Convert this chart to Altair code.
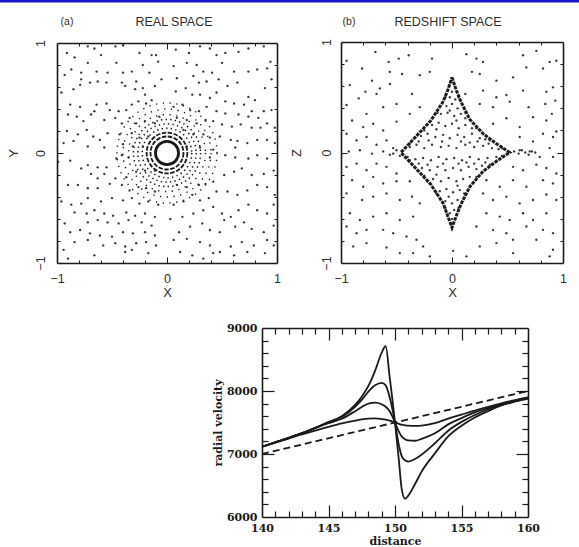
import altair as alt
import pandas as pd

# ---------------- panel (a): REAL SPACE, scattered particles (x, y) ----------------
A_UL = [(-0.91,0.91),(-0.84,0.87),(-0.72,0.82),(-0.93,0.71),(-0.78,0.73),(-0.78,0.67),(-0.64,0.74),(-0.54,0.73),
        (-0.40,0.73),(-0.46,0.82),(-0.32,0.74),(-0.22,0.80),(-0.14,0.89),(-0.10,0.89),(-0.08,0.83),(-0.16,0.73),
        (-0.96,0.55),(-0.79,0.62),(-0.70,0.64),(-0.63,0.65),(-0.55,0.64),(-0.41,0.64),(-0.38,0.61),(-0.29,0.58),
        (-0.22,0.59),(-0.20,0.53),(-0.11,0.61),(-0.05,0.67),(-0.88,0.44),(-0.79,0.42),(-0.64,0.44),(-0.66,0.38),
        (-0.55,0.45),(-0.52,0.39),(-0.44,0.38),(-0.37,0.39),(-0.32,0.44),(-0.26,0.47),(-0.19,0.45),(-0.14,0.48),
        (-0.90,0.35),(-0.82,0.33),(-0.76,0.29),(-0.69,0.35),(-0.57,0.30),(-0.47,0.32),(-0.41,0.27),(-0.34,0.32),
        (-0.28,0.27),(-0.20,0.29),(-0.11,0.27),(-0.07,0.33),(-0.91,0.20),(-0.81,0.17),(-0.73,0.21),(-0.67,0.15),
        (-0.61,0.12),(-0.54,0.18),(-0.43,0.17),(-0.32,0.18),(-0.25,0.14),(-0.17,0.15),(-0.94,0.09),(-0.85,0.11),
        (-0.72,0.06),(-0.57,0.05),(-0.40,0.08),(-0.31,0.06),(-0.22,0.06),(-0.47,0.97),(-0.40,0.98),(-0.66,0.95),
        (-0.72,0.97),(-0.60,0.89),(-0.25,0.91),(-0.87,0.76),(-0.85,0.58),(-0.28,0.65)]
A_UR = [(0.08,0.94),(0.20,0.91),(0.30,0.97),(0.39,0.95),(0.45,0.89),(0.53,0.91),(0.65,0.92),(0.74,0.95),
        (0.88,0.97),(0.06,0.79),(0.18,0.82),(0.27,0.80),(0.33,0.74),(0.41,0.73),(0.50,0.82),(0.61,0.74),
        (0.74,0.74),(0.82,0.76),(0.91,0.77),(0.94,0.83),(0.09,0.68),(0.24,0.70),(0.29,0.64),(0.36,0.65),
        (0.47,0.67),(0.55,0.61),(0.64,0.64),(0.74,0.51),(0.80,0.48),(0.89,0.59),(0.95,0.67),(0.08,0.56),
        (0.17,0.59),(0.23,0.53),(0.30,0.53),(0.39,0.50),(0.45,0.55),(0.53,0.47),(0.61,0.45),(0.70,0.44),
        (0.77,0.38),(0.88,0.38),(0.95,0.39),(0.06,0.42),(0.14,0.44),(0.21,0.39),(0.29,0.38),(0.36,0.42),
        (0.45,0.38),(0.53,0.36),(0.65,0.35),(0.74,0.33),(0.83,0.32),(0.91,0.27),(0.98,0.23),(0.09,0.32),
        (0.18,0.30),(0.27,0.27),(0.35,0.30),(0.42,0.29),(0.50,0.26),(0.59,0.24),(0.67,0.26),(0.77,0.23),
        (0.85,0.23),(0.15,0.21),(0.24,0.17),(0.33,0.17),(0.39,0.14),(0.48,0.15),(0.58,0.12),(0.64,0.11),
        (0.73,0.09),(0.82,0.12),(0.91,0.12),(0.98,0.09),(0.18,0.06),(0.30,0.05),(0.42,0.03),(0.62,0.05)]
A_LL = [(-0.99,-0.08),(-0.88,-0.07),(-0.78,-0.14),(-0.72,-0.11),(-0.63,-0.13),(-0.55,-0.13),(-0.46,-0.05),
        (-0.41,-0.02),(-0.35,-0.04),(-0.69,-0.19),(-0.63,-0.23),(-0.57,-0.19),(-0.47,-0.23),(-0.37,-0.22),
        (-0.28,-0.17),(-0.20,-0.16),(-0.11,-0.16),(-0.90,-0.29),(-0.81,-0.29),(-0.72,-0.32),(-0.63,-0.32),
        (-0.52,-0.28),(-0.41,-0.29),(-0.34,-0.34),(-0.26,-0.31),(-0.19,-0.32),(-0.11,-0.35),(-0.96,-0.44),
        (-0.87,-0.47),(-0.78,-0.46),(-0.72,-0.41),(-0.60,-0.44),(-0.50,-0.41),(-0.40,-0.43),(-0.32,-0.41),
        (-0.25,-0.46),(-0.17,-0.44),(-0.08,-0.47),(-0.84,-0.54),(-0.73,-0.55),(-0.66,-0.52),(-0.57,-0.55),
        (-0.49,-0.57),(-0.37,-0.54),(-0.29,-0.57),(-0.20,-0.55),(-0.11,-0.58),(-0.93,-0.64),(-0.72,-0.63),
        (-0.63,-0.61),(-0.54,-0.63),(-0.44,-0.64),(-0.35,-0.61),(-0.23,-0.63),(-0.14,-0.66),(-0.88,-0.72),
        (-0.79,-0.70),(-0.70,-0.73),(-0.61,-0.75),(-0.50,-0.76),(-0.40,-0.72),(-0.31,-0.73),(-0.20,-0.72),
        (-0.11,-0.75),(-0.84,-0.81),(-0.72,-0.79),(-0.58,-0.84),(-0.47,-0.82),(-0.38,-0.85),(-0.28,-0.82),
        (-0.19,-0.81),(-0.10,-0.84),(-0.94,-0.88),(-0.90,-0.96),(-0.66,-0.93),(-0.38,-0.90),(-0.32,-0.88),
        (-0.17,-0.91)]
A_LR = [(0.39,-0.04),(0.53,-0.02),(0.62,-0.04),(0.74,-0.05),(0.82,-0.02),(0.91,-0.05),(0.97,-0.16),
        (0.88,-0.19),(0.77,-0.20),(0.68,-0.14),(0.61,-0.17),(0.52,-0.20),(0.42,-0.26),(0.35,-0.28),
        (0.29,-0.29),(0.18,-0.31),(0.09,-0.29),(0.06,-0.47),(0.15,-0.44),(0.23,-0.38),(0.30,-0.43),
        (0.38,-0.41),(0.45,-0.35),(0.55,-0.35),(0.64,-0.38),(0.73,-0.34),(0.82,-0.29),(0.91,-0.31),
        (0.98,-0.38),(0.03,-0.60),(0.14,-0.58),(0.24,-0.55),(0.33,-0.52),(0.42,-0.49),(0.50,-0.55),
        (0.58,-0.58),(0.65,-0.52),(0.74,-0.47),(0.82,-0.52),(0.91,-0.55),(0.97,-0.47),(0.11,-0.72),
        (0.21,-0.67),(0.32,-0.64),(0.39,-0.70),(0.48,-0.72),(0.52,-0.61),(0.62,-0.67),(0.70,-0.63),
        (0.77,-0.69),(0.88,-0.72),(0.97,-0.66),(0.06,-0.79),(0.18,-0.78),(0.30,-0.81),(0.39,-0.84),
        (0.48,-0.90),(0.58,-0.85),(0.68,-0.81),(0.79,-0.84),(0.91,-0.79),(0.12,-0.90),(0.23,-0.93),
        (0.33,-0.96),(0.42,-0.91),(0.61,-0.93),(0.73,-0.90),(0.89,-0.91),(0.97,-0.84)]

# concentric shells around the cluster centre (radius, in units of the box)
RING_SOLID = [0.105]
RING_DASHED = [0.15, 0.185]
RING_DOTTED_IN = [0.225, 0.265, 0.305]
RING_DOTTED_OUT = [0.35, 0.40, 0.455]

# ---------------- panel (b): REDSHIFT SPACE ----------------
B_OUT = [(-0.69,0.91),(-0.57,0.82),(-0.48,0.85),(-0.39,0.88),(-0.18,0.85),(0.13,0.89),(0.22,0.85),(0.28,0.82),
         (0.64,0.88),(0.76,0.92),(0.88,0.82),(0.94,0.83),(-0.95,0.83),(-0.81,0.76),(-0.72,0.65),(-0.65,0.58),
         (-0.56,0.73),(-0.45,0.71),(-0.29,0.70),(-0.20,0.73),(0.18,0.73),(0.25,0.71),(0.40,0.65),(0.55,0.68),
         (0.67,0.77),(0.82,0.76),(-0.92,0.61),(-0.78,0.55),(-0.68,0.53),(-0.56,0.62),(-0.36,0.53),(0.12,0.53),
         (0.28,0.56),(0.40,0.50),(0.49,0.52),(0.64,0.56),(0.85,0.55),(0.91,0.59),(-0.95,0.43),(-0.84,0.49),
         (-0.77,0.35),(-0.62,0.41),(-0.50,0.44),(-0.38,0.35),(-0.29,0.41),(0.25,0.44),(0.37,0.41),(0.52,0.46),
         (0.69,0.41),(0.84,0.44),(0.93,0.47),(0.90,0.35),(-0.90,0.29),(-0.80,0.23),(-0.71,0.26),(-0.62,0.20),
         (-0.50,0.28),(0.37,0.26),(0.49,0.31),(0.61,0.23),(0.73,0.32),(0.85,0.29),(0.94,0.19),(-0.95,0.17),
         (-0.86,0.11),(-0.77,0.14),(-0.68,0.07),(-0.59,0.11),(-0.53,0.04),(0.61,0.14),(0.73,0.10),(0.82,0.17),
         (0.91,0.14),(0.88,0.04),(-0.93,0.01),(-0.83,0.02),(-0.72,-0.01),(-0.62,0.01),(-0.56,-0.02),(0.61,0.02),
         (0.70,0.01),(0.79,-0.04),(0.91,-0.04),(-0.95,-0.13),(-0.86,-0.10),(-0.77,-0.16),(-0.68,-0.10),
         (-0.59,-0.13),(-0.50,-0.19),(0.55,-0.13),(0.64,-0.16),(0.76,-0.11),(0.85,-0.14),(0.94,-0.19),
         (-0.90,-0.25),(-0.80,-0.31),(-0.71,-0.22),(-0.62,-0.28),(-0.50,-0.26),(-0.38,-0.26),(0.31,-0.25),
         (0.43,-0.31),(0.55,-0.25),(0.67,-0.31),(0.82,-0.25),(0.91,-0.28),(-0.95,-0.37),(-0.81,-0.43),
         (-0.71,-0.40),(-0.59,-0.37),(-0.47,-0.43),(-0.36,-0.40),(-0.29,-0.46),(0.28,-0.37),(0.37,-0.43),
         (0.49,-0.40),(0.61,-0.46),(0.73,-0.43),(0.85,-0.38),(0.94,-0.43),(-0.92,-0.55),(-0.83,-0.61),
         (-0.71,-0.58),(-0.59,-0.55),(-0.47,-0.61),(-0.35,-0.58),(0.31,-0.55),(0.43,-0.58),(0.52,-0.61),
         (0.64,-0.55),(0.73,-0.61),(0.85,-0.55),(-0.95,-0.67),(-0.86,-0.73),(-0.77,-0.70),(-0.62,-0.70),
         (-0.53,-0.73),(-0.41,-0.76),(-0.32,-0.79),(-0.26,-0.85),(0.22,-0.67),(0.37,-0.70),(0.49,-0.73),
         (0.55,-0.79),(0.67,-0.67),(0.82,-0.70),(0.91,-0.73),(-0.89,-0.85),(-0.77,-0.82),(-0.59,-0.86),
         (-0.47,-0.91),(-0.35,-0.91),(-0.20,-0.94),(0.01,-0.89),(0.13,-0.94),(0.25,-0.85),(0.40,-0.82),
         (0.55,-0.91),(0.76,-0.79),(0.91,-0.88),(0.88,-0.94),(0.56,0.01),(0.60,-0.01),(0.63,0.02),
         (0.66,0.00),(0.69,-0.02),(0.72,0.01),(0.75,0.00),(-0.50,0.02),(-0.47,-0.03),(-0.53,-0.01)]
B_IN = [(0.00,0.55),(-0.02,0.50),(0.03,0.48),(-0.05,0.42),(0.00,0.44),(0.05,0.40),(-0.10,0.35),(-0.04,0.36),
        (0.02,0.33),(0.08,0.35),(0.12,0.31),(-0.18,0.25),(-0.12,0.27),(-0.06,0.24),(0.00,0.26),(0.06,0.22),
        (0.12,0.25),(0.18,0.22),(-0.28,0.15),(-0.22,0.17),(-0.15,0.14),(-0.08,0.16),(-0.02,0.13),(0.05,0.16),
        (0.11,0.14),(0.18,0.17),(0.25,0.13),(0.30,0.12),(-0.38,0.05),(-0.32,0.07),(-0.25,0.04),(-0.18,0.07),
        (-0.10,0.05),(-0.03,0.06),(0.04,0.04),(0.12,0.07),(0.20,0.05),(0.28,0.06),(0.36,0.04),(0.42,0.03),
        (-0.40,-0.04),(-0.33,-0.06),(-0.26,-0.05),(-0.19,-0.07),(-0.12,-0.04),(-0.05,-0.06),(0.02,-0.05),
        (0.09,-0.07),(0.16,-0.04),(0.24,-0.06),(0.32,-0.05),(0.40,-0.04),(-0.27,-0.14),(-0.20,-0.16),
        (-0.13,-0.13),(-0.06,-0.16),(0.01,-0.14),(0.08,-0.16),(0.15,-0.13),(0.22,-0.15),(0.27,-0.12),
        (-0.17,-0.24),(-0.10,-0.26),(-0.03,-0.23),(0.04,-0.26),(0.10,-0.24),(0.16,-0.22),(-0.11,-0.35),
        (-0.05,-0.33),(0.01,-0.36),(0.07,-0.34),(0.11,-0.37),(-0.06,-0.44),(0.00,-0.46),(0.05,-0.43),
        (-0.02,-0.55),(0.02,-0.52),(0.00,-0.60),(0.06,0.50),(0.12,0.36),(0.22,0.22),(0.34,0.11),(0.45,0.04),
        (-0.06,0.50),(-0.13,0.36),(-0.25,0.20),(-0.38,0.08),(0.06,-0.50),(0.12,-0.38),(0.22,-0.22),
        (0.34,-0.11),(0.45,-0.03),(-0.06,-0.50),(-0.14,-0.37),(-0.25,-0.21),(-0.38,-0.07),
        (-0.30,0.10),(-0.21,0.11),(-0.14,0.21),(-0.09,0.10),(0.08,0.10),(0.16,0.09),(0.23,0.10),(0.33,0.08),
        (-0.30,-0.10),(-0.22,-0.11),(-0.14,-0.20),(-0.08,-0.10),(0.06,-0.10),(0.13,-0.09),(0.20,-0.10),
        (0.30,-0.09),(-0.02,0.38),(0.04,0.29),(-0.03,-0.40),(0.05,-0.30),(0.02,0.62),(-0.01,-0.64)]
# caustic outline of the collapsing shell in redshift space
CAUSTIC = [(0.00,0.68),(0.04,0.56),(0.08,0.46),(0.16,0.30),(0.28,0.17),(0.40,0.08),(0.52,0.00),
           (0.40,-0.08),(0.28,-0.17),(0.16,-0.31),(0.08,-0.47),(0.04,-0.57),(0.00,-0.68),(-0.04,-0.57),
           (-0.08,-0.46),(-0.19,-0.29),(-0.32,-0.15),(-0.46,0.00),(-0.32,0.15),(-0.19,0.29),(-0.08,0.46),
           (-0.04,0.56),(0.00,0.68)]

BOX_DOMAIN = [-1.0, 1.0]
BOX_LABELS = [-1.0, 0.0, 1.0]
BOX_TICKS_MINOR = [-0.8, -0.6, -0.4, -0.2, 0.2, 0.4, 0.6, 0.8]
BOX_TICKS_MAJOR = [0.0]

# ---------------- panel (c): radial velocity vs distance ----------------
DIST = [140, 141, 142, 143, 144, 145, 146, 147, 147.5, 148, 148.5, 149, 149.3, 149.6, 150, 150.3, 150.5,
        150.75, 151, 151.5, 152, 153, 154, 155, 156, 157, 158, 159, 160]
VEL_1 = [7115, 7185, 7255, 7330, 7415, 7505, 7600, 7780, 7910, 8080, 8320, 8610, 8710, 8220, 7500, 6880, 6450,
         6290, 6340, 6520, 6720, 7010, 7280, 7450, 7580, 7680, 7770, 7830, 7880]
VEL_2 = [7115, 7185, 7255, 7330, 7415, 7505, 7590, 7750, 7860, 7990, 8090, 8130, 8090, 7900, 7500, 7130, 6970,
         6900, 6880, 6920, 6990, 7170, 7370, 7510, 7620, 7710, 7780, 7840, 7885]
VEL_3 = [7115, 7185, 7255, 7330, 7410, 7490, 7560, 7680, 7745, 7800, 7815, 7790, 7750, 7680, 7500, 7350, 7280,
         7235, 7215, 7210, 7240, 7330, 7470, 7570, 7660, 7730, 7790, 7845, 7895]
VEL_4 = [7115, 7180, 7245, 7310, 7370, 7430, 7485, 7530, 7550, 7562, 7565, 7555, 7545, 7530, 7500, 7478, 7465,
         7455, 7450, 7447, 7452, 7490, 7560, 7625, 7690, 7750, 7805, 7855, 7900]
HUBBLE_D = [140, 160]
HUBBLE_V = [7000, 8000]
D_DOMAIN = [140, 160]
V_DOMAIN = [6000, 9000]
D_LABELS = [140, 145, 150, 155, 160]
V_LABELS = [6000, 7000, 8000, 9000]
D_TICKS_MAJOR = [145, 150, 155]
D_TICKS_MINOR = [141, 142, 143, 144, 146, 147, 148, 149, 151, 152, 153, 154, 156, 157, 158, 159]
V_TICKS_MAJOR = [7000, 8000]
V_TICKS_MINOR = [6200, 6400, 6600, 6800, 7200, 7400, 7600, 7800, 8200, 8400, 8600, 8800]

# ---------------- page layout (pixels) ----------------
CW, CH = 579, 547
A_BOX = (57, 277, 263, 43)     # left, right, bottom, top of the plot frame
B_BOX = (341, 563, 263, 42)
C_BOX = (262, 528, 517, 328)

INK = "#1a1a1a"
TXT = "#2e2e2e"
SANS = "Liberation Sans"
SERIF = "DejaVu Serif"


def lin(domain, rng):
    return alt.Scale(domain=domain, range=rng, nice=False, zero=False)


def frame_layers(box, xdom, ydom, xminor, xmajor, yminor, ymajor, lmin, lmaj, tw):
    """Frame (axis domain lines) and inward ticks on all four sides, drawn with axes."""
    x0, x1, yb, yt = box
    sx, sy = lin(xdom, [x0, x1]), lin(ydom, [yb, yt])
    dummy = pd.DataFrame({"x": xdom, "y": ydom})
    out = []
    for xv, yv, ln, dom in ((xminor, yminor, lmin, True), (xmajor, ymajor, lmaj, False)):
        common = dict(labels=False, title="", grid=False, tickSize=ln, tickColor=INK, tickWidth=tw,
                      domain=dom, domainColor=INK, domainWidth=1.6)
        out.append(alt.Chart(dummy).mark_point(opacity=0).encode(
            x=alt.X("x:Q", scale=sx, axis=alt.Axis(orient="top", offset=-yb, values=xv, **common)),
            y=alt.Y("y:Q", scale=sy, axis=alt.Axis(orient="right", offset=x0 - CW, values=yv, **common))))
        out.append(alt.Chart(dummy).mark_point(opacity=0).encode(
            x=alt.X("x:Q", scale=sx, axis=alt.Axis(orient="bottom", offset=yt - CH, values=xv, **common)),
            y=alt.Y("y:Q", scale=sy, axis=alt.Axis(orient="left", offset=-x1, values=yv, **common))))
    return out


def box_layers(points, box, xtitle, ytitle, ylab_pad, ytitle_pad):
    x0, x1, yb, yt = box
    sx, sy = lin(BOX_DOMAIN, [x0, x1]), lin(BOX_DOMAIN, [yb, yt])
    xa = alt.Axis(orient="bottom", offset=yb - CH, values=BOX_LABELS, format=".0f", title=xtitle, ticks=False,
                  domain=False, grid=False, labelFlush=False, labelOverlap=False, labelPadding=9,
                  labelFont=SANS, labelFontSize=12.5, labelColor=TXT, titleFont=SANS, titleFontSize=13,
                  titleFontWeight="normal", titleColor=TXT, titlePadding=2)
    ya = alt.Axis(orient="left", offset=-x0, values=BOX_LABELS, format=".0f", title=ytitle, ticks=False,
                  domain=False, grid=False, labelFlush=False, labelOverlap=False, labelAngle=270,
                  labelPadding=ylab_pad, labelFont=SANS, labelFontSize=12.5, labelColor=TXT, titleFont=SANS,
                  titleFontSize=13, titleFontWeight="normal", titleColor=TXT, titlePadding=ytitle_pad)
    rows = [p for g in points for p in g]
    df = pd.DataFrame({"x": [p[0] for p in rows], "y": [p[1] for p in rows]})
    return alt.Chart(df).mark_circle(size=5.5, color="#303030", opacity=0.95).encode(
        x=alt.X("x:Q", scale=sx, axis=xa), y=alt.Y("y:Q", scale=sy, axis=ya)), sx, sy


# ring radius r (box units) -> circle symbol of diameter 2*r*110 px (symbol size is an area)
RSIZE = alt.Scale(type="pow", exponent=2, domain=[0, 1], range=[0, 220 * 220], zero=True)


def ring_layer(sx, sy, radii, width, dash=None):
    df = pd.DataFrame({"r": radii, "x": [0.0] * len(radii), "y": [0.0] * len(radii)})
    kw = dict(shape="circle", filled=False, color=INK, strokeWidth=width, opacity=1)
    if dash is not None:
        kw["strokeDash"] = dash
    return alt.Chart(df).mark_point(**kw).encode(
        x=alt.X("x:Q", scale=sx, axis=None), y=alt.Y("y:Q", scale=sy, axis=None),
        size=alt.Size("r:Q", scale=RSIZE, legend=None))


def label(text, x, y, size):
    return alt.Chart(pd.DataFrame({"t": [text]})).mark_text(
        font=SANS, fontSize=size, color=TXT, align="center", baseline="middle").encode(
        text="t:N", x=alt.value(x), y=alt.value(y))


layers = []

# ---- (a) ----
pa, sxa, sya = box_layers([A_UL, A_UR, A_LL, A_LR], A_BOX, "X", "Y", 10, 14)
layers.append(pa)
layers.append(ring_layer(sxa, sya, RING_SOLID, 2.8))
layers.append(ring_layer(sxa, sya, RING_DASHED, 1.8, [4.5, 1.5]))
layers.append(ring_layer(sxa, sya, RING_DOTTED_IN, 1.5, [1.4, 3.2]))
layers.append(ring_layer(sxa, sya, RING_DOTTED_OUT, 1.4, [1.3, 5.5]))
layers += frame_layers(A_BOX, BOX_DOMAIN, BOX_DOMAIN, BOX_TICKS_MINOR, BOX_TICKS_MAJOR,
                       BOX_TICKS_MINOR, BOX_TICKS_MAJOR, 3, 6, 1)
layers.append(label("(a)", 67, 22, 10.5))
layers.append(label("REAL SPACE", 174, 22, 12.5))

# ---- (b) ----
pb, sxb, syb = box_layers([B_OUT, B_IN], B_BOX, "X", "Z", 8, 17)
layers.append(pb)
caustic_df = pd.DataFrame({"x": [p[0] for p in CAUSTIC], "y": [p[1] for p in CAUSTIC],
                           "o": list(range(len(CAUSTIC)))})
layers.append(alt.Chart(caustic_df).mark_line(color="#1c1c1c", strokeWidth=3, strokeDash=[3.5, 1]).encode(
    x=alt.X("x:Q", scale=sxb, axis=None), y=alt.Y("y:Q", scale=syb, axis=None), order="o:Q"))
layers += frame_layers(B_BOX, BOX_DOMAIN, BOX_DOMAIN, BOX_TICKS_MINOR, BOX_TICKS_MAJOR,
                       BOX_TICKS_MINOR, BOX_TICKS_MAJOR, 3, 6, 1)
layers.append(label("(b)", 349, 22, 10.5))
layers.append(label("REDSHIFT SPACE", 448, 22, 12.5))

# ---- (c) ----
cx0, cx1, cyb, cyt = C_BOX
sxc, syc = lin(D_DOMAIN, [cx0, cx1]), lin(V_DOMAIN, [cyb, cyt])
curve_rows = []
for name, vals in (("1", VEL_1), ("2", VEL_2), ("3", VEL_3), ("4", VEL_4)):
    for d, v in zip(DIST, vals):
        curve_rows.append({"d": d, "v": v, "c": name})
curves = pd.DataFrame(curve_rows)
xax = alt.Axis(orient="bottom", offset=cyb - CH, values=D_LABELS, format="d", title="distance", ticks=False,
               domain=False, grid=False, labelFlush=False, labelOverlap=False, labelPadding=5, labelFont=SERIF,
               labelFontWeight="bold", labelFontSize=11, labelColor=INK, titleFont=SERIF, titleFontWeight="bold",
               titleFontSize=11, titleColor=INK, titlePadding=2)
yax = alt.Axis(orient="left", offset=-cx0, values=V_LABELS, format="d", title="radial velocity", ticks=False,
               domain=False, grid=False, labelFlush=False, labelOverlap=False, labelPadding=5, labelFont=SERIF,
               labelFontWeight="bold", labelFontSize=11, labelColor=INK, titleFont=SERIF, titleFontWeight="bold",
               titleFontSize=11, titleColor=INK, titlePadding=3)
layers.append(alt.Chart(curves).mark_line(color=INK, strokeWidth=1.8, interpolate="monotone").encode(
    x=alt.X("d:Q", scale=sxc, axis=xax), y=alt.Y("v:Q", scale=syc, axis=yax), detail="c:N"))
layers.append(alt.Chart(pd.DataFrame({"d": HUBBLE_D, "v": HUBBLE_V})).mark_line(
    color=INK, strokeWidth=1.8, strokeDash=[7, 4]).encode(
    x=alt.X("d:Q", scale=sxc, axis=None), y=alt.Y("v:Q", scale=syc, axis=None)))
layers += frame_layers(C_BOX, D_DOMAIN, V_DOMAIN, D_TICKS_MINOR, D_TICKS_MAJOR,
                       V_TICKS_MINOR, V_TICKS_MAJOR, 6, 12, 1.2)

# ---- blue banner across the top of the page ----
layers.append(alt.Chart(pd.DataFrame({"k": [0]})).mark_rule(color="#1616c4", strokeWidth=2.5).encode(
    x=alt.value(0), x2=alt.value(CW), y=alt.value(1.25)))

chart = alt.layer(*layers).resolve_scale(
    x="independent", y="independent", size="independent"
).properties(
    width=CW, height=CH, padding=0, background="white",
    autosize=alt.AutoSizeParams(type="none")
).configure_view(stroke="transparent")

chart.save("out.html", embed_options={"renderer": "svg", "actions": False})
